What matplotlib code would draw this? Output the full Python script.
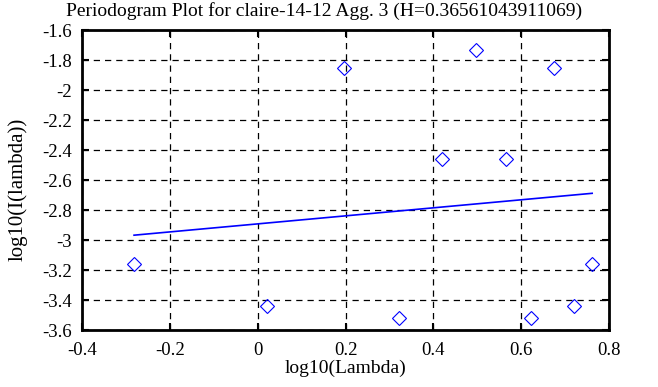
import matplotlib
matplotlib.use("Agg")
import matplotlib.pyplot as plt

# periodogram points (log10 lambda, log10 I(lambda))
log_lambda = [-0.281, 0.021, 0.196, 0.322, 0.419, 0.497, 0.564, 0.623, 0.674, 0.720, 0.761]
log_i = [-3.160, -3.438, -1.851, -3.516, -2.458, -1.729, -2.458, -3.516, -1.851, -3.436, -3.160]

# fitted line endpoints
fit_x = [-0.281, 0.761]
fit_y = [-2.965, -2.686]

x_ticks = [-0.4, -0.2, 0, 0.2, 0.4, 0.6, 0.8]
y_ticks = [-3.6, -3.4, -3.2, -3, -2.8, -2.6, -2.4, -2.2, -2, -1.8, -1.6]

title = "Periodogram Plot for claire-14-12 Agg. 3 (H=0.36561043911069)"

plt.rcParams["font.family"] = ["Liberation Serif", "DejaVu Serif"]

fig = plt.figure(figsize=(6.58, 3.87), dpi=100)
ax = fig.add_axes([0.1242, 0.146, 0.8018, 0.7757])

ax.plot(log_lambda, log_i, linestyle="none", marker="D", markersize=7.5,
        markerfacecolor="none", markeredgecolor="#0000ff", markeredgewidth=0.8)
ax.plot(fit_x, fit_y, color="#0000ff", linewidth=1.2)

ax.set_xlim(-0.4, 0.8)
ax.set_ylim(-3.6, -1.6)
ax.set_xticks(x_ticks)
ax.set_yticks(y_ticks)
ax.set_xticklabels([f"{t:g}" for t in x_ticks])
ax.set_yticklabels([f"{t:g}" for t in y_ticks])

ax.grid(True, color="black", linestyle=(0, (5, 4)), linewidth=0.9)
ax.tick_params(direction="in", length=5, width=1.5, top=True, right=True,
               labelsize=13.5, colors="black")
ax.tick_params(axis="y", pad=7)
ax.tick_params(axis="x", pad=8)
for s in ax.spines.values():
    s.set_linewidth(2)

ax.set_xlabel("log10(Lambda)", fontsize=14, labelpad=1)
ax.set_ylabel("log10(I(lambda))", fontsize=15, labelpad=4)
ax.yaxis.set_label_coords(-0.102, 0.47)
fig.suptitle(title, fontsize=14, x=0.493, y=0.995, va="top")

fig.savefig("out.png", dpi=100)
